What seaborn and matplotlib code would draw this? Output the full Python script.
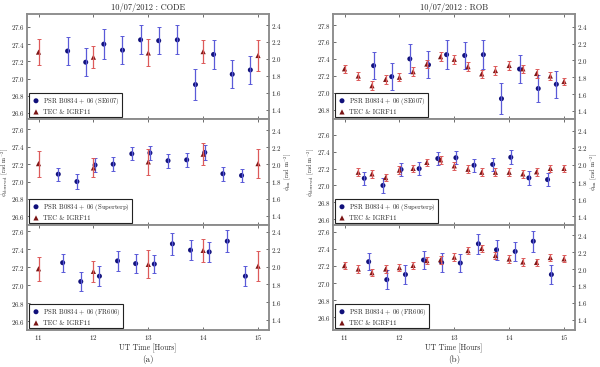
import matplotlib
matplotlib.use('Agg')
import matplotlib.pyplot as plt
import seaborn as sns
from matplotlib.ticker import MultipleLocator

sns.set_style('ticks')
plt.rcParams['font.family'] = ['cmr10', 'DejaVu Serif']
plt.rcParams['mathtext.fontset'] = 'cm'
plt.rcParams['axes.formatter.use_mathtext'] = True

# observed RM of PSR B0834+06, one set per station (same in both columns)
t_se607 = [11.53, 11.86, 12.19, 12.53, 12.86, 13.19, 13.53, 13.86, 14.19, 14.53, 14.86]
rm_se607 = [27.32, 27.19, 27.40, 27.33, 27.45, 27.44, 27.45, 26.93, 27.28, 27.05, 27.10]
err_se607 = [0.16, 0.16, 0.17, 0.16, 0.17, 0.16, 0.17, 0.18, 0.17, 0.16, 0.16]

t_sup = [11.36, 11.70, 12.03, 12.36, 12.70, 13.03, 13.36, 13.70, 14.03, 14.36, 14.70]
rm_sup = [27.085, 27.0, 27.19, 27.20, 27.32, 27.33, 27.24, 27.25, 27.335, 27.09, 27.07]
err_sup = [0.075, 0.09, 0.08, 0.08, 0.075, 0.08, 0.08, 0.08, 0.085, 0.08, 0.075]

t_fr606 = [11.44, 11.77, 12.11, 12.44, 12.77, 13.11, 13.44, 13.77, 14.11, 14.44, 14.77]
rm_fr606 = [27.25, 27.04, 27.10, 27.27, 27.24, 27.235, 27.46, 27.39, 27.37, 27.49, 27.10]
err_fr606 = [0.10, 0.11, 0.11, 0.11, 0.11, 0.105, 0.12, 0.115, 0.11, 0.125, 0.11]

# ionospheric RM, CODE maps (hourly)
t_code = [11, 12, 13, 14, 15]
ion_code_se607 = [2.08, 2.02, 2.07, 2.086, 2.04]
ierr_code_se607 = [0.15, 0.13, 0.16, 0.135, 0.18]
ion_code_sup = [2.01, 1.96, 2.03, 2.12, 2.01]
ierr_code_sup = [0.15, 0.11, 0.15, 0.125, 0.17]
ion_code_fr606 = [1.98, 1.95, 2.03, 2.19, 2.01]
ierr_code_fr606 = [0.14, 0.12, 0.16, 0.13, 0.17]

# ionospheric RM, ROB maps (every 15 min)
t_rob = [11.0, 11.25, 11.5, 11.75, 12.0, 12.25, 12.5, 12.75, 13.0,
         13.25, 13.5, 13.75, 14.0, 14.25, 14.5, 14.75, 15.0]
ion_rob_se607 = [1.90, 1.815, 1.70, 1.775, 1.80, 1.866, 1.957, 2.044, 2.013,
                 1.926, 1.84, 1.88, 1.94, 1.90, 1.845, 1.815, 1.75]
ierr_rob_se607 = [0.05, 0.05, 0.05, 0.05, 0.05, 0.05, 0.05, 0.05, 0.05,
                  0.05, 0.05, 0.05, 0.05, 0.05, 0.05, 0.05, 0.04]
t_rob_sup = [11.25, 11.5, 11.75, 12.0, 12.25, 12.5, 12.75, 13.0,
             13.25, 13.5, 13.75, 14.0, 14.25, 14.5, 14.75, 15.0]
ion_rob_sup = [1.915, 1.896, 1.853, 1.94, 1.96, 2.03, 2.06, 1.99,
               1.95, 1.915, 1.915, 1.915, 1.896, 1.92, 1.96, 1.96]
ierr_rob_sup = [0.045, 0.045, 0.045, 0.045, 0.045, 0.045, 0.045, 0.045,
                0.045, 0.045, 0.045, 0.045, 0.045, 0.045, 0.045, 0.04]
ion_rob_fr606 = [2.04, 2.0, 1.957, 2.0, 2.016, 2.043, 2.10, 2.11, 2.14,
                 2.218, 2.243, 2.16, 2.118, 2.083, 2.078, 2.136, 2.12]
ierr_rob_fr606 = [0.045, 0.045, 0.045, 0.045, 0.045, 0.045, 0.045, 0.045, 0.045,
                  0.045, 0.045, 0.045, 0.045, 0.045, 0.045, 0.045, 0.04]

navy = '#10107a'
blue_err = '#5a5ad8'
maroon = '#7a1414'
red_err = '#dd5a5a'
frame = '#8c8c8c'

fig = plt.figure(figsize=(6, 3.67), dpi=100)
lefts = [27 / 600, 333 / 600]
width = 242 / 600
rows = [(1 - 119 / 367, 105 / 367), (1 - 225 / 367, 106 / 367), (1 - 330 / 367, 105 / 367)]


def style(a):
    for s in a.spines.values():
        s.set_color(frame)
        s.set_linewidth(1.1)
    a.tick_params(direction='in', length=2.5, width=0.6, color='#555555',
                  labelsize=5, pad=1.5)


def panel(rect, tb, rb, eb, tr, rr, er, name, ylim_l, ylim_r, bottom):
    ax = fig.add_axes(rect)
    ax.errorbar(tb, rb, yerr=eb, fmt='none', ecolor=blue_err, elinewidth=0.9,
                capsize=1.6, capthick=0.7)
    sns.scatterplot(x=tb, y=rb, ax=ax, color=navy, marker='o', s=13,
                    edgecolor='none', label='PSR B0834 $+$ 06 (%s)' % name,
                    legend=False)
    ax2 = ax.twinx()
    ax2.errorbar(tr, rr, yerr=er, fmt='none', ecolor=red_err, elinewidth=0.9,
                 capsize=1.6, capthick=0.7)
    sns.scatterplot(x=tr, y=rr, ax=ax2, color=maroon, marker='^', s=14,
                    edgecolor='none', label='TEC & IGRF11', legend=False)
    ax.set_xlim(10.79, 15.2)
    ax.set_ylim(*ylim_l)
    ax2.set_ylim(*ylim_r)
    ax.xaxis.set_major_locator(MultipleLocator(1))
    ax.yaxis.set_major_locator(MultipleLocator(0.2))
    ax2.yaxis.set_major_locator(MultipleLocator(0.2))
    style(ax)
    style(ax2)
    ax.tick_params(axis='x', top=True, labelbottom=bottom, pad=2)
    h1, l1 = ax.get_legend_handles_labels()
    h2, l2 = ax2.get_legend_handles_labels()
    leg = ax2.legend(h1 + h2, l1 + l2, loc='lower left', fontsize=4.8,
                     fancybox=False, edgecolor='#222222', framealpha=1,
                     borderaxespad=0.25, handletextpad=0.3, borderpad=0.4,
                     labelspacing=0.35, handlelength=1.4)
    leg.get_frame().set_linewidth(0.8)
    return ax, ax2


ylab_l = r'$\phi_{\rm observed}$ [rad m$^{-2}$]'
ylab_r = r'$\phi_{\rm ion}$ [rad m$^{-2}$]'


def ylabels(ax, ax2):
    ax.set_ylabel(ylab_l, fontsize=4.4)
    ax.yaxis.set_label_coords(-0.068, 0.5)
    ax2.set_ylabel(ylab_r, fontsize=4.4)
    ax2.yaxis.set_label_coords(1.058, 0.5)


# CODE column
x0 = lefts[0]
ax, _ = panel([x0, rows[0][0], width, rows[0][1]], t_se607, rm_se607, err_se607,
              t_code, ion_code_se607, ierr_code_se607, 'SE607',
              (26.53, 27.75), (1.29, 2.53), False)
ax.set_title('10/07/2012 : CODE', fontsize=6, pad=3)
ax, ax2 = panel([x0, rows[1][0], width, rows[1][1]], t_sup, rm_sup, err_sup,
                t_code, ion_code_sup, ierr_code_sup, 'Superterp',
                (26.5, 27.72), (1.295, 2.53), False)
ylabels(ax, ax2)
ax, _ = panel([x0, rows[2][0], width, rows[2][1]], t_fr606, rm_fr606, err_fr606,
              t_code, ion_code_fr606, ierr_code_fr606, 'FR606',
              (26.5, 27.67), (1.28, 2.48), True)
ax.set_xlabel('UT Time [Hours]', fontsize=5.5, labelpad=1)
fig.text(x0 + width / 2, 1 - 359 / 367, '(a)', ha='center', va='center', fontsize=6.5)

# ROB column
x0 = lefts[1]
ax, _ = panel([x0, rows[0][0], width, rows[0][1]], t_se607, rm_se607, err_se607,
              t_rob, ion_rob_se607, ierr_rob_se607, 'SE607',
              (26.69, 27.93), (1.305, 2.55), False)
ax.set_title('10/07/2012 : ROB', fontsize=6, pad=3)
ax, ax2 = panel([x0, rows[1][0], width, rows[1][1]], t_sup, rm_sup, err_sup,
                t_rob_sup, ion_rob_sup, ierr_rob_sup, 'Superterp',
                (26.53, 27.79), (1.30, 2.536), False)
ylabels(ax, ax2)
ax, _ = panel([x0, rows[2][0], width, rows[2][1]], t_fr606, rm_fr606, err_fr606,
              t_rob, ion_rob_fr606, ierr_rob_fr606, 'FR606',
              (26.45, 27.68), (1.28, 2.52), True)
ax.set_xlabel('UT Time [Hours]', fontsize=5.5, labelpad=1)
fig.text(x0 + width / 2, 1 - 359 / 367, '(b)', ha='center', va='center', fontsize=6.5)

fig.savefig('out.png', dpi=100)
